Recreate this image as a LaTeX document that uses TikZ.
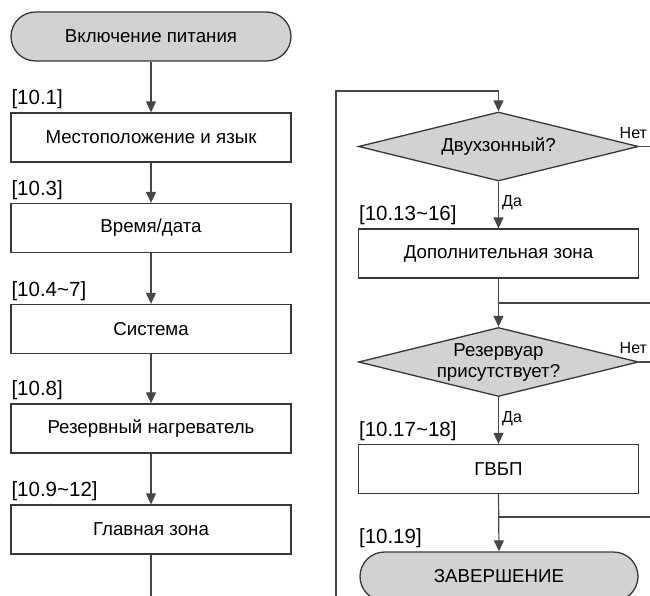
\documentclass[tikz,border=0pt]{standalone}
\usepackage{fontspec}
\setmainfont{Liberation Sans}
\usetikzlibrary{shapes.geometric,shapes.misc,arrows.meta}
\definecolor{fillgray}{RGB}{210,210,210}
\definecolor{boxline}{RGB}{55,55,55}
\definecolor{connline}{RGB}{70,70,70}
\begin{document}
\begin{tikzpicture}[x=1pt,y=-1pt,
  every node/.style={font=\fontsize{18.7}{21}\selectfont},
  procbox/.style={draw=boxline, line width=1.3pt, fill=white, minimum width=280pt, minimum height=49pt, inner sep=0pt},
  term/.style={rounded rectangle, draw=boxline, line width=1.3pt, fill=fillgray, minimum width=280pt, minimum height=49pt, inner sep=0pt},
  dec/.style={diamond, draw=boxline, line width=1.3pt, fill=fillgray, minimum width=280pt, minimum height=69pt, inner sep=0pt},
  refl/.style={font=\fontsize{20.5}{23}\selectfont, inner sep=0pt, anchor=south west},
  yn/.style={font=\fontsize{16}{18}\selectfont, inner sep=0pt},
  conn/.style={draw=connline, line width=1.2pt},
  arr/.style={conn, -{Triangle[length=11pt,width=10pt]}}
]
\clip (0,0) rectangle (650,596);
% left column
\node[term] (start) at (151,36.5) {Включение питания};
\node[procbox] (b1) at (151,137.5) {Местоположение и язык};
\node[procbox] (b2) at (151,228) {Время/дата};
\node[procbox] (b3) at (151,329) {Система};
\node[procbox] (b4) at (151,428.5) {Резервный нагреватель};
\node[procbox] (b5) at (151,529.5) {Главная зона};
\node[refl] (l1) at ([xshift=1pt,yshift=3pt]b1.north west) {[10.1]};
\node[refl] (l2) at ([xshift=1pt,yshift=3pt]b2.north west) {[10.3]};
\node[refl] (l3) at ([xshift=1pt,yshift=3pt]b3.north west) {[10.4\textasciitilde 7]};
\node[refl] (l4) at ([xshift=1pt,yshift=3pt]b4.north west) {[10.8]};
\node[refl] (l5) at ([xshift=1pt,yshift=3pt]b5.north west) {[10.9\textasciitilde 12]};
\draw[arr] (start.south) -- (b1.north);
\draw[arr] (b1.south) -- (b2.north);
\draw[arr] (b2.south) -- (b3.north);
\draw[arr] (b3.south) -- (b4.north);
\draw[arr] (b4.south) -- (b5.north);
\coordinate (lb) at (151,600);
\draw[conn] (b5.south) -- (lb);
% right column
\node[dec] (d1) at (498.5,146.5) {};
\node (d1t) at (d1.center) {Двухзонный?};
\node[procbox] (b6) at (498.5,253.5) {Дополнительная зона};
\node[dec] (d2) at (498.5,362) {};
\node[align=center, inner sep=0pt] (d2t) at ([yshift=-1pt]d2.center) {Резервуар\\присутствует?};
\node[procbox] (b7) at (498.5,469) {ГВБП};
\node[term, minimum width=278pt] (end) at (499,576.5) {ЗАВЕРШЕНИЕ};
\node[refl] (l6) at ([xshift=1pt,yshift=3pt]b6.north west) {[10.13\textasciitilde 16]};
\node[refl] (l7) at ([xshift=1pt,yshift=3pt]b7.north west) {[10.17\textasciitilde 18]};
\node[refl] (l8) at ([xshift=1pt,yshift=3pt]end.north -| b7.west) {[10.19]};
\coordinate (lpbot) at (336,600);
\coordinate (lptop) at (336,91);
\draw[arr] (lpbot) -- (lptop) -| (d1.north);
\draw[arr] (d1.south) -- (b6.north);
\draw[arr] (b6.south) -- (d2.north);
\draw[arr] (d2.south) -- (b7.north);
\draw[arr] (b7.south) -- (end.north);
\coordinate (n1) at (652,146.5);
\coordinate (n2) at (652,362);
\coordinate (r1) at (652,303);
\coordinate (r2) at (652,517);
\draw[conn] (d1.east) -- (d1.east -| n1);
\draw[conn] (d2.east) -- (d2.east -| n2);
\draw[conn] (r1) -- (b6.south |- r1);
\draw[conn] (r2) -- (b7.south |- r2);
\node[yn, anchor=base east] (no1) at ([xshift=8pt,yshift=8pt]d1.east) {Нет};
\node[yn, anchor=base east] (no2) at ([xshift=8pt,yshift=8.5pt]d2.east) {Нет};
\node[yn, anchor=base west] (yes1) at ([xshift=3.5pt,yshift=-25pt]d1.south) {Да};
\node[yn, anchor=base west] (yes2) at ([xshift=3.5pt,yshift=-25pt]d2.south) {Да};
\end{tikzpicture}
\end{document}
